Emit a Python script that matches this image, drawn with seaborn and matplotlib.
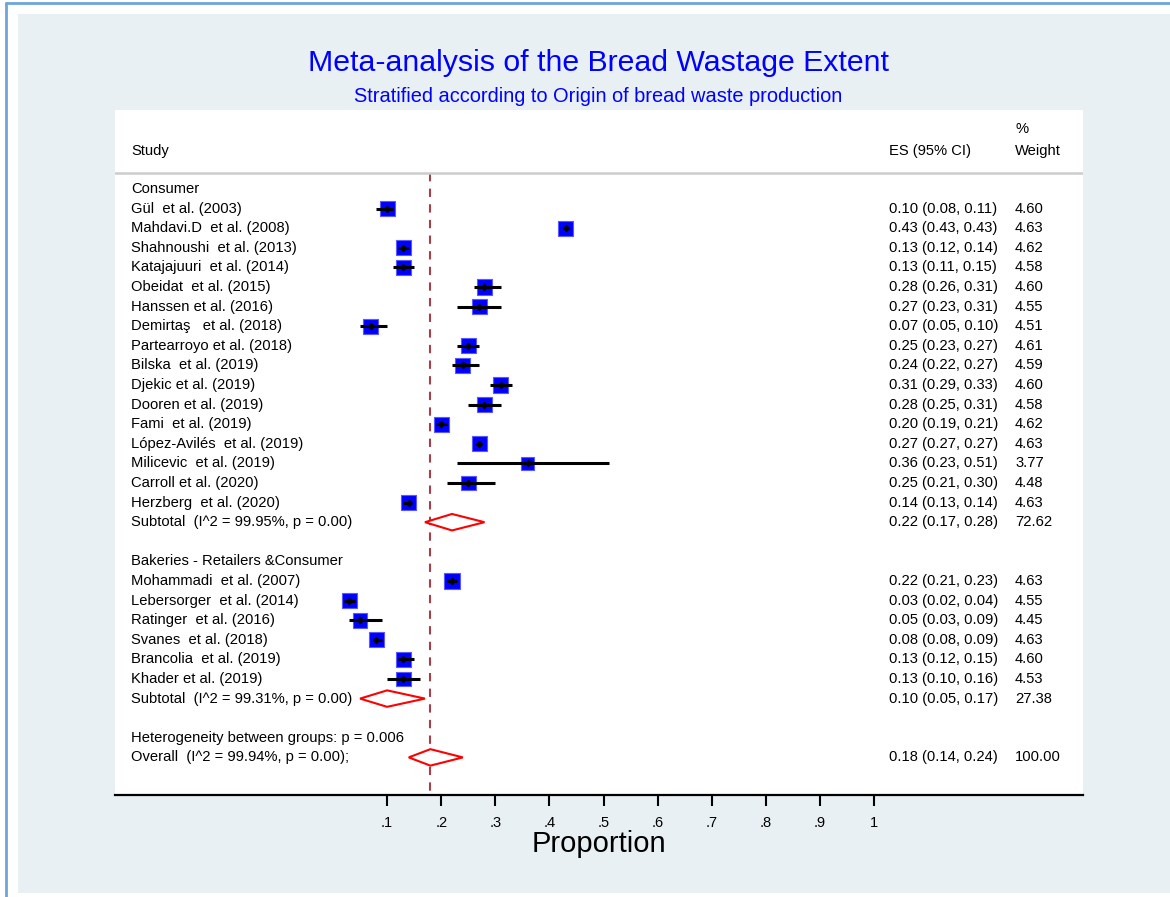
# forest plot: meta-analysis of bread wastage extent
import numpy as np
import pandas as pd
import matplotlib
matplotlib.use("Agg")
import matplotlib.pyplot as plt
import matplotlib.transforms as mtransforms
from matplotlib.lines import Line2D
from matplotlib.patches import Rectangle, Polygon
import seaborn as sns

# ---- data ----
consumer_studies = ["Gül  et al. (2003)", "Mahdavi.D  et al. (2008)", "Shahnoushi  et al. (2013)",
                    "Katajajuuri  et al. (2014)", "Obeidat  et al. (2015)", "Hanssen et al. (2016)",
                    "Demirtaş   et al. (2018)", "Partearroyo et al. (2018)", "Bilska  et al. (2019)",
                    "Djekic et al. (2019)", "Dooren et al. (2019)", "Fami  et al. (2019)",
                    "López-Avilés  et al. (2019)", "Milicevic  et al. (2019)", "Carroll et al. (2020)",
                    "Herzberg  et al. (2020)"]
consumer_es = [0.10, 0.43, 0.13, 0.13, 0.28, 0.27, 0.07, 0.25, 0.24, 0.31, 0.28, 0.20, 0.27, 0.36, 0.25, 0.14]
consumer_lo = [0.08, 0.43, 0.12, 0.11, 0.26, 0.23, 0.05, 0.23, 0.22, 0.29, 0.25, 0.19, 0.27, 0.23, 0.21, 0.13]
consumer_hi = [0.11, 0.43, 0.14, 0.15, 0.31, 0.31, 0.10, 0.27, 0.27, 0.33, 0.31, 0.21, 0.27, 0.51, 0.30, 0.14]
consumer_w = [4.60, 4.63, 4.62, 4.58, 4.60, 4.55, 4.51, 4.61, 4.59, 4.60, 4.58, 4.62, 4.63, 3.77, 4.48, 4.63]

bakery_studies = ["Mohammadi  et al. (2007)", "Lebersorger  et al. (2014)", "Ratinger  et al. (2016)",
                  "Svanes  et al. (2018)", "Brancolia  et al. (2019)", "Khader et al. (2019)"]
bakery_es = [0.22, 0.03, 0.05, 0.08, 0.13, 0.13]
bakery_lo = [0.21, 0.02, 0.03, 0.08, 0.12, 0.10]
bakery_hi = [0.23, 0.04, 0.09, 0.09, 0.15, 0.16]
bakery_w = [4.63, 4.55, 4.45, 4.63, 4.60, 4.53]

group_names = ["Consumer", "Bakeries - Retailers &Consumer"]
subtotal_es = [0.22, 0.10]
subtotal_lo = [0.17, 0.05]
subtotal_hi = [0.28, 0.17]
subtotal_w = [72.62, 27.38]
subtotal_i2 = [99.95, 99.31]

overall_es, overall_lo, overall_hi, overall_w = 0.18, 0.14, 0.24, 100.00
overall_i2 = 99.94
het_p = 0.006

xticks = [0.1, 0.2, 0.3, 0.4, 0.5, 0.6, 0.7, 0.8, 0.9, 1.0]
xtick_labels = [".1", ".2", ".3", ".4", ".5", ".6", ".7", ".8", ".9", "1"]

# ---- build the row table ----
groups = [(consumer_studies, consumer_es, consumer_lo, consumer_hi, consumer_w),
          (bakery_studies, bakery_es, bakery_lo, bakery_hi, bakery_w)]
study_rows = []
sub_rows = []
header_rows = []
r = 0
for g, (names, es, lo, hi, w) in enumerate(groups):
    header_rows.append(r)
    r += 1
    for i in range(len(names)):
        study_rows.append(dict(study=names[i], es=es[i], lo=lo[i], hi=hi[i], weight=w[i], row=r))
        r += 1
    sub_rows.append(r)
    r += 2
het_row = r
overall_row = r + 1
df = pd.DataFrame(study_rows)

# ---- figure ----
W, H = 1170, 897
fig = plt.figure(figsize=(W / 100, H / 100), dpi=100, facecolor="white")
sns.set_theme(style="white")
plt.rcParams["font.family"] = ["Liberation Sans", "DejaVu Sans"]

def fx(px):
    return px / W

def fy(py):
    return 1 - py / H

bg = "#e8f0f3"
fig.add_artist(Rectangle((fx(18), fy(893)), fx(1170) - fx(18), fy(14) - fy(893),
                         transform=fig.transFigure, facecolor=bg, edgecolor="none", zorder=0))
fig.add_artist(Line2D([fx(5.5), fx(5.5)], [fy(3.5), 0], transform=fig.transFigure,
                      color="#6fa3dc", lw=2))
fig.add_artist(Line2D([fx(5.5), 1], [fy(3.5), fy(3.5)], transform=fig.transFigure,
                      color="#6fa3dc", lw=2))

ax = fig.add_axes([fx(115), fy(795), (1083 - 115) / W, (795 - 110) / H])
ax.set_facecolor("white")
x0_px, unit_px = 333.0, 541.0
ax.set_xlim((115 - x0_px) / unit_px, (1083 - x0_px) / unit_px)
row0_px, row_px = 189.0, 19.6
ax.set_ylim((795 - row0_px) / row_px, (110 - row0_px) / row_px)

# CI lines and squares
ax.hlines(df["row"], df["lo"], df["hi"], color="black", lw=2.2, zorder=4)
sns.scatterplot(data=df, x="es", y="row", size="weight", sizes=(92, 118), size_norm=(3.77, 4.63),
                marker="s", color="#0000ff", edgecolor="#5a5aff", linewidth=0.8,
                legend=False, ax=ax, zorder=3)
sns.scatterplot(data=df, x="es", y="row", marker="D", color="black", s=16, linewidth=0,
                legend=False, ax=ax, zorder=5)

# diamonds
diam_h = 0.42
for es, lo, hi, rr in list(zip(subtotal_es, subtotal_lo, subtotal_hi, sub_rows)) + \
        [(overall_es, overall_lo, overall_hi, overall_row)]:
    ax.add_patch(Polygon([[lo, rr], [es, rr - diam_h], [hi, rr], [es, rr + diam_h]],
                         closed=True, facecolor="white", edgecolor="red", lw=1.5, zorder=4))

# overall line
ax.vlines(overall_es, -0.82, (795 - row0_px) / row_px, color="#a5404a", lw=1.5,
          linestyles=(0, (4, 3.5)), zorder=2)

# header line
ax.axhline(-0.82, color="#cccccc", lw=1.8)

# text columns
tr = mtransforms.blended_transform_factory(ax.transAxes, ax.transData)
xs_lab = (131 - 115) / 968
xs_es = (889 - 115) / 968
xs_w = (1015 - 115) / 968
fs = 10.6
kw = dict(transform=tr, fontsize=fs, va="center", ha="left", color="black")
ax.text(xs_lab, -1.94, "Study", **kw)
ax.text(xs_es, -1.94, "ES (95% CI)", **kw)
ax.text(xs_w, -3.06, "%", **kw)
ax.text(xs_w, -1.94, "Weight", **kw)

for name, hr in zip(group_names, header_rows):
    ax.text(xs_lab, hr, name, **kw)
for _, d in df.iterrows():
    ax.text(xs_lab, d["row"], d["study"], **kw)
    ax.text(xs_es, d["row"], f"{d['es']:.2f} ({d['lo']:.2f}, {d['hi']:.2f})", **kw)
    ax.text(xs_w, d["row"], f"{d['weight']:.2f}", **kw)
for es, lo, hi, w, i2, rr in zip(subtotal_es, subtotal_lo, subtotal_hi, subtotal_w, subtotal_i2, sub_rows):
    ax.text(xs_lab, rr, f"Subtotal  (I^2 = {i2:.2f}%, p = 0.00)", **kw)
    ax.text(xs_es, rr, f"{es:.2f} ({lo:.2f}, {hi:.2f})", **kw)
    ax.text(xs_w, rr, f"{w:.2f}", **kw)
ax.text(xs_lab, het_row, f"Heterogeneity between groups: p = {het_p:.3f}", **kw)
ax.text(xs_lab, overall_row, f"Overall  (I^2 = {overall_i2:.2f}%, p = 0.00);", **kw)
ax.text(xs_es, overall_row, f"{overall_es:.2f} ({overall_lo:.2f}, {overall_hi:.2f})", **kw)
ax.text(xs_w, overall_row, f"{overall_w:.2f}", **kw)

# axes styling
for s in ["top", "left", "right"]:
    ax.spines[s].set_visible(False)
ax.spines["bottom"].set_color("black")
ax.spines["bottom"].set_linewidth(1.6)
ax.set_yticks([])
ax.set_xticks(xticks)
ax.set_xticklabels(xtick_labels, fontsize=10.5, color="black")
ax.tick_params(axis="x", direction="out", length=8, width=1.5, color="black", pad=7,
               bottom=True)
ax.set_xlabel("Proportion", fontsize=21, labelpad=0, color="black")
ax.set_ylabel("")

fig.text(fx(598), fy(63), "Meta-analysis of the Bread Wastage Extent", color="#0000ff",
         fontsize=21.8, ha="center", va="center")
fig.text(fx(598), fy(97), "Stratified according to Origin of bread waste production", color="#0000ff",
         fontsize=14.4, ha="center", va="center")

fig.savefig("out.png", dpi=100, facecolor="white")
